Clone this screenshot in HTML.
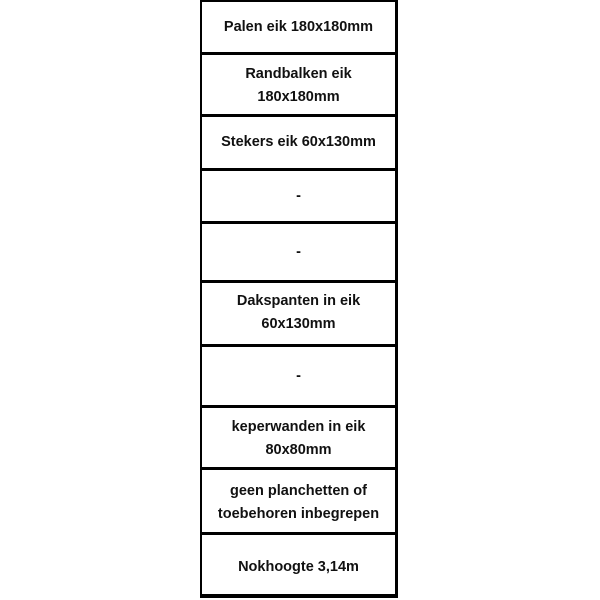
<!DOCTYPE html>
<html><head><style>
body{margin:0;width:600px;height:600px;background:#fff;position:relative;overflow:hidden;font-family:"Liberation Sans",sans-serif;}
.h{position:absolute;left:200px;width:198px;height:3px;background:#000;}
.v{position:absolute;top:0;height:598px;background:#000;}
.t{position:absolute;left:202px;width:193px;text-align:center;font-size:14.5px;line-height:23px;color:#111;font-weight:bold;letter-spacing:0;}
</style></head><body>
<div class="v" style="left:200px;width:2px"></div>
<div class="v" style="left:395px;width:3px"></div>
<div class="h" style="top:0;height:2px"></div>
<div class="h" style="top:52px"></div>
<div class="h" style="top:114px"></div>
<div class="h" style="top:168px"></div>
<div class="h" style="top:221px"></div>
<div class="h" style="top:280px"></div>
<div class="h" style="top:344px"></div>
<div class="h" style="top:405px"></div>
<div class="h" style="top:467px"></div>
<div class="h" style="top:532px"></div>
<div class="h" style="top:594px;height:4px"></div>
<div class="t" style="top:16px">Palen eik 180x180mm</div>
<div class="t" style="top:63px">Randbalken eik<br>180x180mm</div>
<div class="t" style="top:131px">Stekers eik 60x130mm</div>
<div class="t" style="top:185px">-</div>
<div class="t" style="top:241px">-</div>
<div class="t" style="top:290px">Dakspanten in eik<br>60x130mm</div>
<div class="t" style="top:365px">-</div>
<div class="t" style="top:416px">keperwanden in eik<br>80x80mm</div>
<div class="t" style="top:480px">geen planchetten of<br>toebehoren inbegrepen</div>
<div class="t" style="top:556px">Nokhoogte 3,14m</div>
</body></html>
